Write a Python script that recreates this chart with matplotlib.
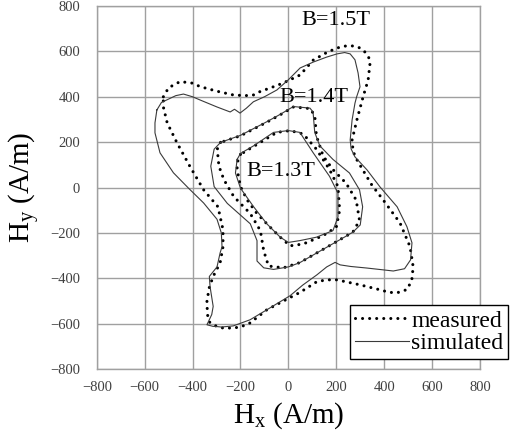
import matplotlib
matplotlib.use("Agg")
import matplotlib.pyplot as plt
import numpy as np
from matplotlib.ticker import MultipleLocator

plt.rcParams['font.family'] = ['Liberation Serif', 'DejaVu Serif']
plt.rcParams['mathtext.fontset'] = 'custom'
plt.rcParams['mathtext.rm'] = 'Liberation Serif'

# B=1.5T loci (Hx, Hy) in A/m
hx15_meas = [-522, -500, -452, -400, -369, -300, -230, -180, -146, -118, -60, -21, 49, 104, 160, 203,
             240, 271, 300, 320, 337, 341, 333, 312, 286, 266, 270, 286, 328, 349, 396, 466, 508, 521,
             515, 495, 454, 420, 383, 299, 203, 160, 119, 49, -20, -90, -160, -200, -230, -270, -298,
             -328, -338, -340, -330, -314, -285, -273, -273, -294, -354, -410, -465, -506, -522, -522]
hy15_meas = [400, 440, 467, 460, 445, 425, 408, 405, 408, 423, 445, 461, 496, 562, 595, 615,
             624, 624, 615, 597, 570, 549, 474, 400, 298, 210, 160, 122, 47, 10, -55, -156, -261, -350,
             -410, -450, -464, -462, -451, -429, -407, -407, -415, -462, -500, -539, -597, -615, -619, -620, -613,
             -595, -560, -500, -440, -392, -332, -261, -186, -85, -10, 91, 197, 285, 355, 400]
hx15_sim = [-549, -530, -500, -470, -438, -400, -369, -298, -243, -225, -202, -175, -146, -100, -48, 0,
            49, 104, 160, 203, 235, 258, 278, 291, 299, 285, 278, 266, 258, 262, 278, 328, 383, 454, 495,
            516, 510, 485, 438, 396, 328, 260, 216, 195, 160, 119, 60, 7, -90, -160, -230, -280, -298,
            -315, -340, -320, -314, -327, -330, -298, -285, -277, -280, -298, -354, -415, -480, -536,
            -557, -557, -549]
hy15_sim = [342, 375, 390, 405, 412, 400, 386, 355, 333, 345, 328, 350, 378, 400, 430, 475,
            527, 553, 575, 589, 595, 589, 563, 505, 444, 400, 372, 298, 210, 170, 135, 78, 2, -85, -173,
            -244, -319, -358, -368, -363, -355, -348, -341, -330, -350, -385, -430, -477, -539, -583, -610, -615, -613,
            -612, -605, -560, -524, -437, -392, -350, -288, -261, -200, -140, -68, -5, 65, 153,
            241, 285, 342]

# B=1.4T
hx14_meas = [-283, -297, -290, -269, -228, -159, -117, -103, -83, -21, 48, 159, 269, 297, 283, 241,
             186, 145, 117, 110, 90, 21, -35, -90, -200, -283]
hy14_meas = [199, 169, 94, 34, -40, -115, -190, -279, -346, -354, -331, -264, -197, -145, -55, 19,
             79, 139, 228, 318, 348, 355, 320, 288, 228, 199]
hx14_sim = [-283, -310, -324, -310, -255, -159, -131, -131, -103, -62, 0, 48, 159, 240, 269, 300,
            310, 297, 255, 186, 131, 110, 103, 90, 21, -35, -90, -200, -283]
hy14_sim = [199, 169, 94, 4, -70, -160, -234, -324, -354, -361, -350, -331, -264, -215, -197, -165,
            -85, -10, 64, 124, 184, 243, 333, 350, 357, 322, 290, 230, 199]

# B=1.3T
hx13_meas = [-200, -214, -214, -200, -172, -131, -76, -34, 7, 62, 145, 200, 214, 207, 172, 117,
             62, 7, -48, -117, -200]
hy13_meas = [146, 109, 79, 4, -55, -115, -175, -219, -257, -249, -212, -175, -100, 4, 79, 169,
             236, 251, 243, 199, 146]
hx13_sim = [-214, -221, -200, -145, -90, -34, 0, 48, 117, 186, 207, 207, 172, 103, 48, 0, -62, -145,
            -200, -214]
hy13_sim = [124, 64, -3, -85, -160, -219, -242, -234, -219, -190, -130, -25, 49, 154, 243, 251, 243, 184,
            150, 124]

labels = ["B=1.5T", "B=1.4T", "B=1.3T"]
label_pos = [(200, 735), (107, 395), (-30, 69)]

fig = plt.figure(figsize=(5.12, 4.47), dpi=100)
ax = fig.add_axes([0.189, 0.1745, 0.7485, 0.812])

dot = dict(color='black', linestyle=(0, (0.01, 2.3)), linewidth=2.2, dash_capstyle='round')
sol = dict(color='#3a3a3a', linestyle='-', linewidth=0.8)

ax.plot(hx15_meas, hy15_meas, label='measured', **dot)
ax.plot(hx15_sim, hy15_sim, label='simulated', **sol)
ax.plot(hx14_meas, hy14_meas, **dot)
ax.plot(hx14_sim, hy14_sim, **sol)
ax.plot(hx13_meas, hy13_meas, **dot)
ax.plot(hx13_sim, hy13_sim, **sol)

for txt, (tx, ty) in zip(labels, label_pos):
    ax.text(tx, ty, txt, fontsize=16, ha='center', va='center', color='black')

ax.set_xlim(-800, 800)
ax.set_ylim(-800, 800)
ax.xaxis.set_major_locator(MultipleLocator(200))
ax.yaxis.set_major_locator(MultipleLocator(200))
ax.grid(True, color='#a0a0a0', linewidth=1.0)
ax.set_axisbelow(True)
for s in ax.spines.values():
    s.set_color('#a0a0a0')
    s.set_linewidth(1.0)
ax.tick_params(length=0, labelsize=10.5, labelcolor='#404040')
ax.tick_params(axis='x', pad=9)
ax.tick_params(axis='y', pad=12)

ax.set_xlabel(r'$\mathregular{H_x}$ (A/m)', fontsize=21, labelpad=4)
ax.set_ylabel(r'$\mathregular{H_y}$ (A/m)', fontsize=21, labelpad=6)

leg = ax.legend(loc='lower left', bbox_to_anchor=(0.661, 0.0275), fontsize=17,
                handlelength=2.3, handletextpad=0.1, borderpad=0.2, labelspacing=0.05,
                fancybox=False, framealpha=1, edgecolor='black', borderaxespad=0)
leg.get_frame().set_linewidth(1.0)

fig.savefig('out.png', dpi=100)
